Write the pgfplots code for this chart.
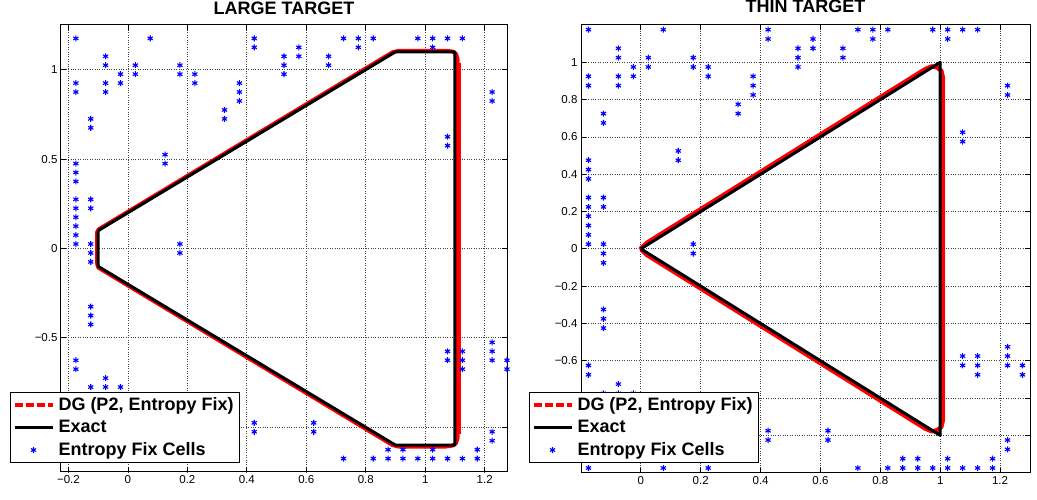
\documentclass[border=0pt]{standalone}
\usepackage{fontspec}
\setmainfont{Liberation Sans}
\usepackage{pgfplots}
\usepackage{pgfplotstable}
\pgfplotsset{compat=1.18}

% entropy fix cells (same cells in both panels)
\pgfplotstableread{
x y
-0.175 1.175
-0.175 0.925
-0.175 0.875
-0.175 0.475
-0.175 0.425
-0.175 0.375
-0.175 0.275
-0.175 0.225
-0.175 0.175
-0.175 0.125
-0.175 0.075
-0.175 0.025
-0.175 -0.625
-0.175 -0.675
-0.175 -1.175
-0.125 0.725
-0.125 0.675
-0.125 0.275
-0.125 0.225
-0.125 0.025
-0.125 -0.025
-0.125 -0.075
-0.125 -0.325
-0.125 -0.375
-0.125 -0.425
-0.125 -0.775
-0.075 1.075
-0.075 1.025
-0.075 0.925
-0.075 0.875
-0.075 -0.725
-0.075 -0.775
-0.025 0.975
-0.025 0.925
-0.025 -0.775
0.025 1.025
0.025 0.975
0.075 1.175
0.075 -1.175
0.125 0.525
0.125 0.475
0.175 1.025
0.175 0.975
0.175 0.025
0.175 -0.025
0.225 0.975
0.225 0.925
0.225 -1.175
0.325 0.775
0.325 0.725
0.375 0.925
0.375 0.875
0.375 0.825
0.425 1.175
0.425 1.125
0.425 -0.975
0.425 -1.025
0.525 1.075
0.525 1.025
0.525 0.975
0.575 1.125
0.575 1.075
0.625 -0.975
0.625 -1.025
0.675 1.075
0.675 1.025
0.725 1.175
0.725 -1.175
0.775 1.175
0.775 1.125
0.825 1.175
0.825 -1.175
0.875 -1.125
0.875 -1.175
0.925 -1.125
0.925 -1.175
0.975 1.175
0.975 -1.175
1.025 1.175
1.025 1.125
1.025 -1.125
1.025 -1.175
1.075 1.175
1.075 0.625
1.075 0.575
1.075 -0.575
1.075 -0.625
1.075 -1.175
1.125 1.175
1.125 -0.575
1.125 -0.625
1.125 -0.675
1.125 -1.175
1.175 -1.125
1.175 -1.175
1.225 0.875
1.225 0.825
1.225 -0.525
1.225 -0.575
1.225 -0.625
1.225 -1.025
1.225 -1.075
1.275 -0.625
1.275 -0.675
}\cells

\pgfplotsset{
  panel/.style={
    scale only axis, anchor=south west,
    axis line style={line width=1pt},
    tick align=inside, tick pos=both, major tick length=5pt,
    every tick/.style={black, line width=0.8pt},
    grid=major, grid style={dotted, line width=0.8pt, black!75},
    ticklabel style={font=\fontsize{11.5}{13}\selectfont},
    title style={font=\bfseries\fontsize{18}{21}\selectfont, anchor=base, at={(0.5,1)}},
    legend cell align=left,
    legend style={draw=black, line width=1pt, anchor=south west,
      font=\bfseries\fontsize{18}{20}\selectfont,
      inner xsep=2pt, inner ysep=1pt, row sep=0pt,
      nodes={inner ysep=4.2pt, inner xsep=4pt}},
    legend image code/.code={\draw[#1] (0pt,0pt) -- (38pt,0pt);},
  },
  dgleg/.style={red, line width=4pt, dash pattern=on 8pt off 3pt},
  exleg/.style={black, line width=3pt},
  cellleg/.style={only marks, mark=asterisk, blue, mark size=3pt,
    mark options={line width=1.1pt},
    legend image code/.code={\draw[##1] plot coordinates {(19pt,0pt)};}},
}

\begin{document}
\begin{tikzpicture}[x=1pt,y=1pt]

\begin{axis}[panel, at={(61pt,28pt)}, width=446pt, height=447pt,
  xmin=-0.225, xmax=1.275, ymin=-1.25, ymax=1.25,
  xtick={-0.2,0,0.2,0.4,0.6,0.8,1,1.2},
  xticklabels={−0.2,0,0.2,0.4,0.6,0.8,1,1.2},
  ytick={-1,-0.5,0,0.5,1},
  yticklabels={−1,−0.5,0,0.5,1},
  title={LARGE TARGET}, title style={yshift=4pt},
  legend style={at={(-0.1143,0.0201)}},
]
\addlegendimage{dgleg}
\addlegendentry{DG (P2, Entropy Fix)}
\addlegendimage{exleg}
\addlegendentry{Exact}
\addlegendimage{cellleg}
\addlegendentry{Entropy Fix Cells}

\addplot[forget plot, red, line width=3.8pt, line join=round] coordinates {
(-0.104,-0.09) (-0.104,0.09) (-0.099,0.107) (0.89,1.098) (0.91,1.106)
(1.07,1.106) (1.092,1.102) (1.104,1.088) (1.109,1.06) (1.109,-1.06)
(1.104,-1.088) (1.092,-1.103) (1.07,-1.108) (0.91,-1.108) (0.89,-1.1)
(-0.099,-0.108) (-0.104,-0.09)};
\addplot[forget plot, red, line width=5.5pt] coordinates {(1.11,1.04) (1.11,-1.04)};
\addplot[forget plot, black, line width=3pt, line join=round] coordinates {
(-0.1,0.1) (0.9,1.1) (1.1,1.1) (1.1,-1.1) (0.9,-1.1) (-0.1,-0.1) (-0.1,0.1)};
\addplot[forget plot, only marks, mark=asterisk, blue, mark size=3pt,
  mark options={line width=1.1pt}] table[x=x,y=y] {\cells};
\end{axis}

\begin{axis}[panel, at={(581pt,27.3pt)}, width=449pt, height=447.7pt,
  xmin=-0.2, xmax=1.3, ymin=-1.2, ymax=1.2,
  xtick={0,0.2,0.4,0.6,0.8,1,1.2},
  xticklabels={0,0.2,0.4,0.6,0.8,1,1.2},
  ytick={-1,-0.8,-0.6,-0.4,-0.2,0,0.2,0.4,0.6,0.8,1},
  yticklabels={−1,−0.8,−0.6,−0.4,−0.2,0,0.2,0.4,0.6,0.8,1},
  title={THIN TARGET}, title style={yshift=6.3pt},
  legend style={at={(-0.1158,0.0217)}},
]
\addlegendimage{dgleg}
\addlegendentry{DG (P2, Entropy Fix)}
\addlegendimage{exleg}
\addlegendentry{Exact}
\addlegendimage{cellleg}
\addlegendentry{Entropy Fix Cells}

\addplot[forget plot, red, line width=4.2pt, line join=round] coordinates {
(0.0,-0.003) (0.0,0.003) (0.02,0.033) (0.95,0.964) (0.972,0.979)
(0.99,0.971) (1.004,0.955) (1.009,0.92) (1.009,-0.92) (1.004,-0.955)
(0.99,-0.971) (0.972,-0.979) (0.95,-0.964) (0.02,-0.033) (0.0,-0.003)};
\addplot[forget plot, black, line width=3pt, line join=round] coordinates {
(0,0) (1,1) (1,-1) (0,0)};
\addplot[forget plot, only marks, mark=asterisk, blue, mark size=3pt,
  mark options={line width=1.1pt}] table[x=x,y=y] {\cells};
\end{axis}

\pgfresetboundingbox
\useasboundingbox (0,0) rectangle (1037,500);
\end{tikzpicture}
\end{document}
